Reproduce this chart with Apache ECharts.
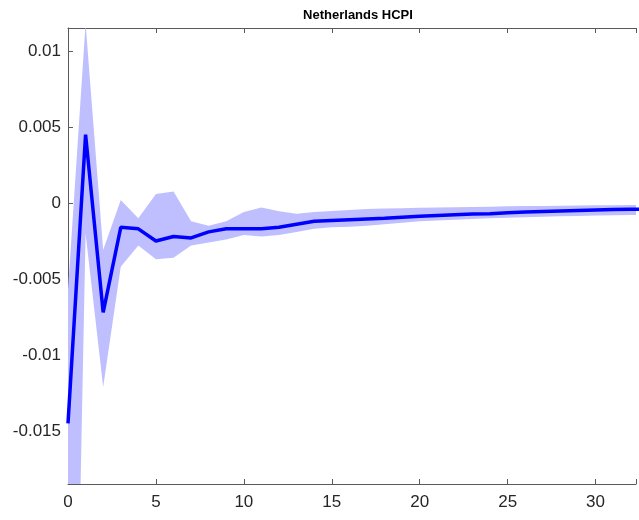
<!DOCTYPE html>
<html>
<head>
<meta charset="utf-8">
<script src="https://cdn.jsdelivr.net/npm/echarts@6/dist/echarts.min.js"></script>
<style>
html,body{margin:0;padding:0;background:#fff;}
#c{width:639px;height:520px;}
</style>
</head>
<body>
<div id="c"></div>
<script>
const title = 'Netherlands HCPI';
const horizons = [0,1,2,3,4,5,6,7,8,9,10,11,12,13,14,15,16,17,18,19,20,21,22,23,24,25,26,27,28,29,30,31,32,33];
const irf = [-0.0145,0.0045,-0.0072,-0.0016,-0.0017,-0.0025,-0.0022,-0.0023,-0.0019,-0.0017,-0.0017,-0.0017,-0.0016,-0.0014,-0.0012,-0.00115,-0.0011,-0.00105,-0.001,-0.00093,-0.00087,-0.00082,-0.00077,-0.00073,-0.0007,-0.00064,-0.0006,-0.00056,-0.00052,-0.00049,-0.00046,-0.00043,-0.00041,-0.0004];
const upper = [-0.0057,0.0118,-0.0031,0.0002,-0.001,0.0006,0.00075,-0.0012,-0.0015,-0.0012,-0.0006,-0.0003,-0.00055,-0.0007,-0.0006,-0.00052,-0.00046,-0.0004,-0.00037,-0.00034,-0.00032,-0.0003,-0.00028,-0.00026,-0.00024,-0.00022,-0.0002,-0.00019,-0.00018,-0.00016,-0.00015,-0.00014,-0.00013,-0.00012];
const lower = [-0.06,-0.002,-0.0121,-0.0042,-0.0028,-0.0037,-0.0036,-0.0028,-0.0026,-0.0024,-0.0021,-0.0022,-0.0021,-0.0019,-0.0017,-0.0016,-0.00157,-0.0015,-0.0014,-0.0013,-0.0012,-0.00115,-0.0011,-0.00105,-0.001,-0.00097,-0.00094,-0.0009,-0.00087,-0.00085,-0.00082,-0.0008,-0.00079,-0.00078];
const xTicks = [0,5,10,15,20,25,30];
const yTicks = [-0.015,-0.01,-0.005,0,0.005,0.01];

const chart = echarts.init(document.getElementById('c'), null, {renderer:'canvas'});
const axisColor = '#595959';
const font = 'Liberation Sans, Arial, Helvetica, sans-serif';
function near(v, arr){ return arr.some(t => Math.abs(t - v) < 1e-9); }

const bandData = horizons.map((h,i)=>[h, lower[i], upper[i]]);
const irfData = horizons.map((h,i)=>[h, irf[i]]);

function renderBand(params, api){
  if (params.dataIndex !== 0) return null;
  const pts = [];
  for (let i = 0; i < horizons.length; i++) pts.push(api.coord([horizons[i], upper[i]]));
  for (let i = horizons.length - 1; i >= 0; i--) pts.push(api.coord([horizons[i], lower[i]]));
  const cs = params.coordSys;
  return {
    type:'group',
    children:[{
      type:'polygon',
      shape:{points:pts},
      style:{fill:'#bfbfff', stroke:null}
    }],
    clipPath:{type:'rect', shape:{x:cs.x, y:cs.y, width:cs.width, height:cs.height}}
  };
}

chart.setOption({
  animation:false,
  backgroundColor:'#fff',
  title:{text:title, left:353, top:4, textAlign:'center',
    textStyle:{fontFamily:font, fontSize:13, fontWeight:'bold', color:'#000'}},
  grid:{left:68, top:28, right:0, bottom:36, containLabel:false},
  xAxis:[{
    type:'value', min:0, max:32.3, interval:5, position:'bottom',
    axisLine:{show:true, onZero:false, lineStyle:{color:axisColor, width:1}},
    axisTick:{show:true, inside:true, length:5, lineStyle:{color:axisColor}},
    splitLine:{show:false},
    axisLabel:{margin:10, fontFamily:font, fontSize:17, color:'#262626',
      formatter:v => near(v, xTicks) ? String(v) : ''}
  },{
    type:'value', min:0, max:32.3, interval:5, position:'top',
    axisLine:{show:true, onZero:false, lineStyle:{color:axisColor, width:1}},
    axisTick:{show:true, inside:true, length:5, lineStyle:{color:axisColor}},
    splitLine:{show:false}, axisLabel:{show:false}
  }],
  yAxis:[{
    type:'value', min:-0.018487, max:0.011513, splitNumber:6,
    axisLine:{show:true, onZero:false, lineStyle:{color:axisColor, width:1}},
    axisTick:{show:true, inside:true, length:5, lineStyle:{color:axisColor}},
    splitLine:{show:false},
    axisLabel:{margin:7, fontFamily:font, fontSize:17, color:'#262626',
      formatter:v => {
        const t = yTicks.find(t => Math.abs(t - v) < 1e-9);
        return t === undefined ? '' : String(t);
      }}
  }],
  series:[
    {type:'custom', name:'band', data:bandData, renderItem:renderBand,
     clip:true, silent:true, z:1, encode:{x:0, y:[1,2]}},
    {type:'line', name:'irf', data:irfData, symbol:'none',
     lineStyle:{color:'#0000ff', width:3.5}, z:3}
  ]
});
</script>
</body>
</html>
